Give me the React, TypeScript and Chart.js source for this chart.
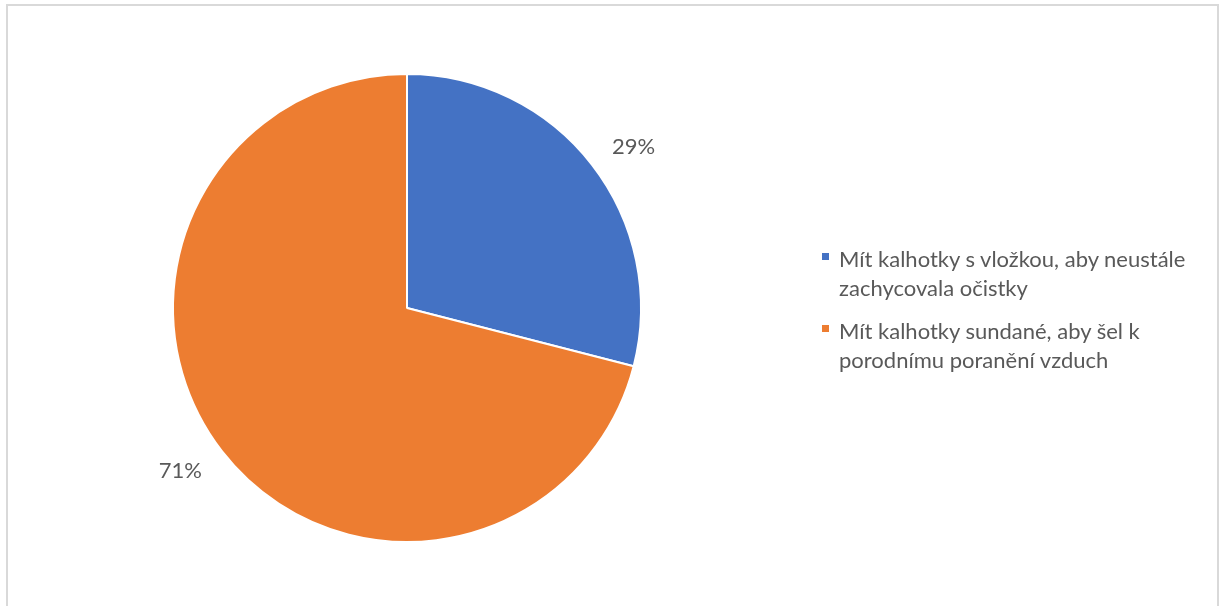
import React, { useEffect, useRef } from "react";
import { Chart, registerables } from "chart.js";

Chart.register(...registerables);

const categories = [
  "Mít kalhotky s vložkou, aby neustále zachycovala očistky",
  "Mít kalhotky sundané, aby šel k porodnímu poranění vzduch",
];
const legendLines = [
  ["Mít kalhotky s vložkou, aby neustále", "zachycovala očistky"],
  ["Mít kalhotky sundané, aby šel k", "porodnímu poranění vzduch"],
];
const values = [29, 71];
const colors = ["#4472C4", "#ED7D31"];

const FONT = "Lato, 'Open Sans', sans-serif";
const TEXT = "#595959";
const FONT_SIZE = 22;

const outsideLabels = {
  id: "outsideLabels",
  afterDatasetsDraw(chart: any) {
    const ctx = chart.ctx;
    const meta = chart.getDatasetMeta(0);
    const data = chart.data.datasets[0].data as number[];
    const total = data.reduce((a, b) => a + b, 0);
    ctx.save();
    ctx.font = `${FONT_SIZE}px ${FONT}`;
    ctx.fillStyle = TEXT;
    ctx.textAlign = "center";
    ctx.textBaseline = "middle";
    meta.data.forEach((arc: any, i: number) => {
      const p = arc.getProps(["x", "y", "startAngle", "endAngle", "outerRadius"], true);
      const mid = (p.startAngle + p.endAngle) / 2 + 0.04;
      const r = p.outerRadius * 1.19;
      const txt = Math.round((data[i] / total) * 100) + "%";
      ctx.fillText(txt, p.x + Math.cos(mid) * r, p.y + Math.sin(mid) * r + 1);
    });
    ctx.restore();
  },
};

export default function App() {
  const ref = useRef<HTMLCanvasElement | null>(null);

  useEffect(() => {
    if (!ref.current) return;
    const chart = new Chart(ref.current, {
      type: "pie",
      data: {
        labels: categories,
        datasets: [
          {
            data: values,
            backgroundColor: colors,
            borderColor: "#ffffff",
            borderWidth: 2,
          },
        ],
      },
      options: {
        responsive: false,
        animation: false,
        devicePixelRatio: 1,
        layout: { padding: { left: 172, right: 580, top: 73, bottom: 63 } },
        plugins: {
          legend: { display: false },
          tooltip: { enabled: false },
        },
      },
      plugins: [outsideLabels],
    });
    return () => chart.destroy();
  }, []);

  return (
    <div
      style={{
        position: "fixed",
        left: 0,
        top: 0,
        width: 1222,
        height: 606,
        overflow: "hidden",
        background: "#ffffff",
        fontFamily: FONT,
      }}
    >
      <div
        style={{
          position: "absolute",
          left: 6,
          top: 4,
          width: 1209,
          height: 700,
          border: "2px solid #d9d9d9",
        }}
      />
      <canvas
        ref={ref}
        width={1222}
        height={606}
        style={{ position: "absolute", left: 0, top: 0, width: 1222, height: 606 }}
      />
      {legendLines.map((lines, i) => (
        <div key={i}>
          <div
            style={{
              position: "absolute",
              left: 822,
              top: 253 + i * 72,
              width: 7,
              height: 7,
              background: colors[i],
            }}
          />
          <div
            style={{
              position: "absolute",
              left: 839,
              top: 244 + i * 72,
              fontSize: FONT_SIZE,
              lineHeight: "29px",
              color: TEXT,
              whiteSpace: "nowrap",
            }}
          >
            {lines.map((l, j) => (
              <div key={j}>{l}</div>
            ))}
          </div>
        </div>
      ))}
    </div>
  );
}
